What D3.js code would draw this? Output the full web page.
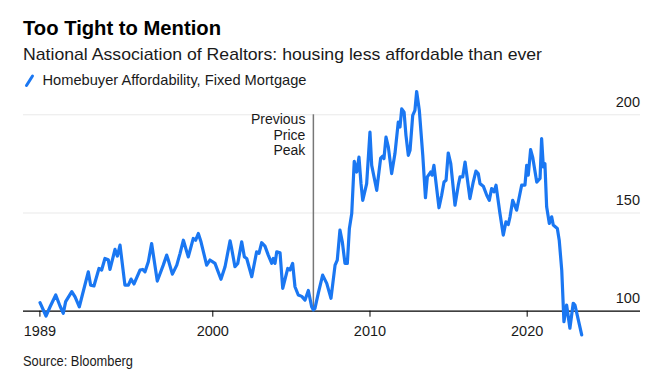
<!DOCTYPE html>
<html>
<head>
<meta charset="utf-8">
<script src="https://cdn.jsdelivr.net/npm/d3@7"></script>
<style>
  html, body { margin: 0; padding: 0; background: #fff; }
  svg { display: block; font-family: "Liberation Sans", Arial, sans-serif; }
</style>
</head>
<body>
<svg id="chart" width="667" height="382"></svg>
<script>
// ---- Data ----
const years = [
  1989.04, 1989.42, 1989.68, 1990.04, 1990.31, 1990.52, 1990.67, 1991.06, 1991.27, 1991.54,
  1992.11, 1992.26, 1992.47, 1992.79, 1992.96, 1993.17, 1993.38, 1993.49, 1993.81, 1993.96,
  1994.13, 1994.44, 1994.66, 1994.83, 1995.02, 1995.40, 1995.57, 1995.72, 1995.93, 1996.14,
  1996.50, 1996.88, 1997.10, 1997.20, 1997.46, 1997.74, 1997.95, 1998.16, 1998.47, 1998.79,
  1998.94, 1999.11, 1999.28, 1999.64, 1999.85, 2000.17, 2000.55, 2000.81, 2001.13, 2001.23,
  2001.44, 2001.62, 2001.87, 2002.04, 2002.19, 2002.51, 2002.82, 2002.97, 2003.14, 2003.35,
  2003.56, 2003.78, 2003.88, 2003.99, 2004.10, 2004.31, 2004.48, 2004.80, 2004.94, 2005.11,
  2005.26, 2005.47, 2005.69, 2005.90, 2006.11, 2006.32, 2006.43, 2006.53, 2006.74, 2007.02,
  2007.28, 2007.55, 2007.81, 2007.95, 2008.12, 2008.27, 2008.44, 2008.59, 2008.72, 2008.87,
  2009.03, 2009.19, 2009.33, 2009.46, 2009.57, 2009.82, 2010.03, 2010.14, 2010.46, 2010.71,
  2010.84, 2010.92, 2011.05, 2011.20, 2011.41, 2011.62, 2011.83, 2011.94, 2012.05, 2012.20,
  2012.32, 2012.47, 2012.58, 2012.75, 2012.89, 2013.00, 2013.17, 2013.39, 2013.56, 2013.68,
  2013.89, 2013.98, 2014.10, 2014.42, 2014.59, 2014.74, 2014.87, 2015.01, 2015.17, 2015.44,
  2015.65, 2015.76, 2015.93, 2016.08, 2016.39, 2016.60, 2016.77, 2016.92, 2017.03, 2017.24,
  2017.46, 2017.62, 2017.77, 2017.92, 2018.05, 2018.30, 2018.51, 2018.68, 2018.83, 2018.94,
  2019.11, 2019.36, 2019.68, 2019.89, 2020.00, 2020.10, 2020.25, 2020.38, 2020.64, 2020.85,
  2020.95, 2021.06, 2021.16, 2021.27, 2021.44, 2021.59, 2021.69, 2021.95, 2022.07, 2022.23,
  2022.37, 2022.54, 2022.75, 2022.96, 2023.07, 2023.18, 2023.50
];
const affordability = [
  104.1, 97.3, 102.0, 108.0, 102.4, 98.7, 104.6, 109.7, 107.0, 102.0,
  119.8, 113.0, 112.6, 121.5, 120.7, 126.6, 126.0, 121.0, 131.2, 127.8,
  133.4, 113.0, 113.0, 116.1, 113.6, 120.7, 121.0, 119.8, 124.9, 134.2,
  115.1, 123.2, 128.3, 125.8, 118.6, 123.2, 129.2, 135.9, 127.4, 136.8,
  135.9, 139.3, 135.1, 123.2, 125.8, 124.1, 116.0, 122.4, 135.6, 131.7,
  122.4, 124.1, 135.1, 127.4, 126.6, 117.3, 130.0, 129.2, 134.6, 132.9,
  128.3, 124.1, 126.6, 124.1, 130.0, 129.5, 111.4, 121.5, 120.7, 124.1,
  112.2, 108.0, 107.3, 105.4, 110.3, 102.0, 100.4, 101.2, 108.8, 118.1,
  113.9, 106.3, 123.2, 125.8, 141.0, 135.1, 124.1, 124.1, 141.9, 149.5,
  176.1, 170.6, 178.2, 164.7, 156.2, 164.7, 190.9, 174.0, 161.3, 177.7,
  178.7, 177.4, 188.4, 183.3, 169.8, 180.0, 196.0, 193.5, 202.8, 201.1,
  189.3, 179.1, 181.7, 199.4, 202.0, 211.6, 202.0, 179.1, 157.5, 168.1,
  170.6, 169.0, 174.0, 152.4, 158.8, 165.5, 166.4, 180.3, 174.9, 153.7,
  163.9, 168.1, 168.1, 175.7, 157.1, 165.5, 171.1, 169.8, 164.7, 163.4,
  158.8, 156.2, 162.2, 160.5, 163.9, 149.5, 138.5, 145.2, 143.9, 147.8,
  156.2, 151.2, 163.9, 163.9, 174.0, 169.0, 182.0, 178.2, 165.5, 167.3,
  187.6, 173.2, 174.9, 152.9, 144.4, 147.8, 143.6, 141.9, 135.9, 120.7,
  94.4, 102.9, 91.1, 103.8, 102.9, 99.0, 87.7
];
const xTickValues = [1989, 2000, 2010, 2020];
const yTickValues = [100, 150, 200];
const peakYear = 2006.43;
const titleText = "Too Tight to Mention";
const subtitleText = "National Association of Realtors: housing less affordable than ever";
const legendText = "Homebuyer Affordability, Fixed Mortgage";
const annotationLines = ["Previous", "Price", "Peak"];
const sourceText = "Source: Bloomberg";

// ---- Drawing ----
const svg = d3.select("#chart");
const blue = "#1a77f2";

const x = d3.scaleLinear().domain([1989, 2023.5]).range([39.4, 581.7]);
const y = d3.scaleLinear().domain([100, 200]).range([310.7, 114.3]);
const plotLeft = 23, plotRight = 640;

svg.append("rect").attr("width", 667).attr("height", 382).attr("fill", "#fff");

// Title, subtitle, legend
svg.append("text").attr("x", 23).attr("y", 35)
  .attr("font-size", 20).attr("font-weight", "bold").attr("fill", "#000")
  .attr("textLength", 198).attr("lengthAdjust", "spacingAndGlyphs")
  .text(titleText);
svg.append("text").attr("x", 23).attr("y", 60)
  .attr("font-size", 17).attr("fill", "#1a1a1a")
  .attr("textLength", 519).attr("lengthAdjust", "spacingAndGlyphs")
  .text(subtitleText);
svg.append("line").attr("x1", 26.5).attr("y1", 85.5).attr("x2", 32.5).attr("y2", 76)
  .attr("stroke", blue).attr("stroke-width", 3).attr("stroke-linecap", "round");
svg.append("text").attr("x", 42.5).attr("y", 85)
  .attr("font-size", 15).attr("fill", "#1a1a1a")
  .attr("textLength", 264).attr("lengthAdjust", "spacingAndGlyphs")
  .text(legendText);

// Y axis (gridlines + labels at right)
const yAxis = svg.append("g").attr("transform", `translate(${plotRight},0)`)
  .call(d3.axisLeft(y).tickValues(yTickValues).tickSize(plotRight - plotLeft).tickFormat(d3.format("d")));
yAxis.select(".domain").remove();
yAxis.selectAll(".tick line")
  .attr("stroke", d => d === 100 ? "#000" : "#e9e9e9")
  .attr("stroke-width", d => d === 100 ? 1.2 : 1);
yAxis.selectAll(".tick text")
  .attr("x", 0).attr("dy", -8).attr("text-anchor", "end")
  .attr("font-size", 14.5).attr("fill", "#1a1a1a")
  .attr("font-family", "'Liberation Sans', Arial, sans-serif");

// X axis
const xAxis = svg.append("g").attr("transform", `translate(0,${y(100)})`)
  .call(d3.axisBottom(x).tickValues(xTickValues).tickSize(6).tickFormat(d3.format("d")));
xAxis.select(".domain").remove();
xAxis.selectAll(".tick line").attr("stroke", "#000").attr("stroke-width", 1);
xAxis.selectAll(".tick text")
  .attr("y", 25).attr("dy", 0)
  .attr("font-size", 14.5).attr("fill", "#1a1a1a")
  .attr("font-family", "'Liberation Sans', Arial, sans-serif");

// Previous price peak annotation
svg.append("line")
  .attr("x1", x(peakYear)).attr("x2", x(peakYear))
  .attr("y1", y(200)).attr("y2", y(100))
  .attr("stroke", "#777").attr("stroke-width", 1.5);
const ann = svg.append("text").attr("text-anchor", "end")
  .attr("font-size", 14).attr("fill", "#1a1a1a");
annotationLines.forEach((t, i) => {
  ann.append("tspan").attr("x", x(peakYear) - 8).attr("y", 124 + i * 15.5).text(t);
});

// Series line
const data = years.map((yr, i) => ({ yr, v: affordability[i] }));
svg.append("path").datum(data)
  .attr("fill", "none").attr("stroke", blue).attr("stroke-width", 3.2)
  .attr("stroke-linejoin", "round").attr("stroke-linecap", "round")
  .attr("d", d3.line().x(d => x(d.yr)).y(d => y(d.v)));

// Source
svg.append("text").attr("x", 23).attr("y", 365.5)
  .attr("font-size", 14).attr("fill", "#1a1a1a")
  .attr("textLength", 110).attr("lengthAdjust", "spacingAndGlyphs")
  .text(sourceText);
</script>
</body>
</html>
